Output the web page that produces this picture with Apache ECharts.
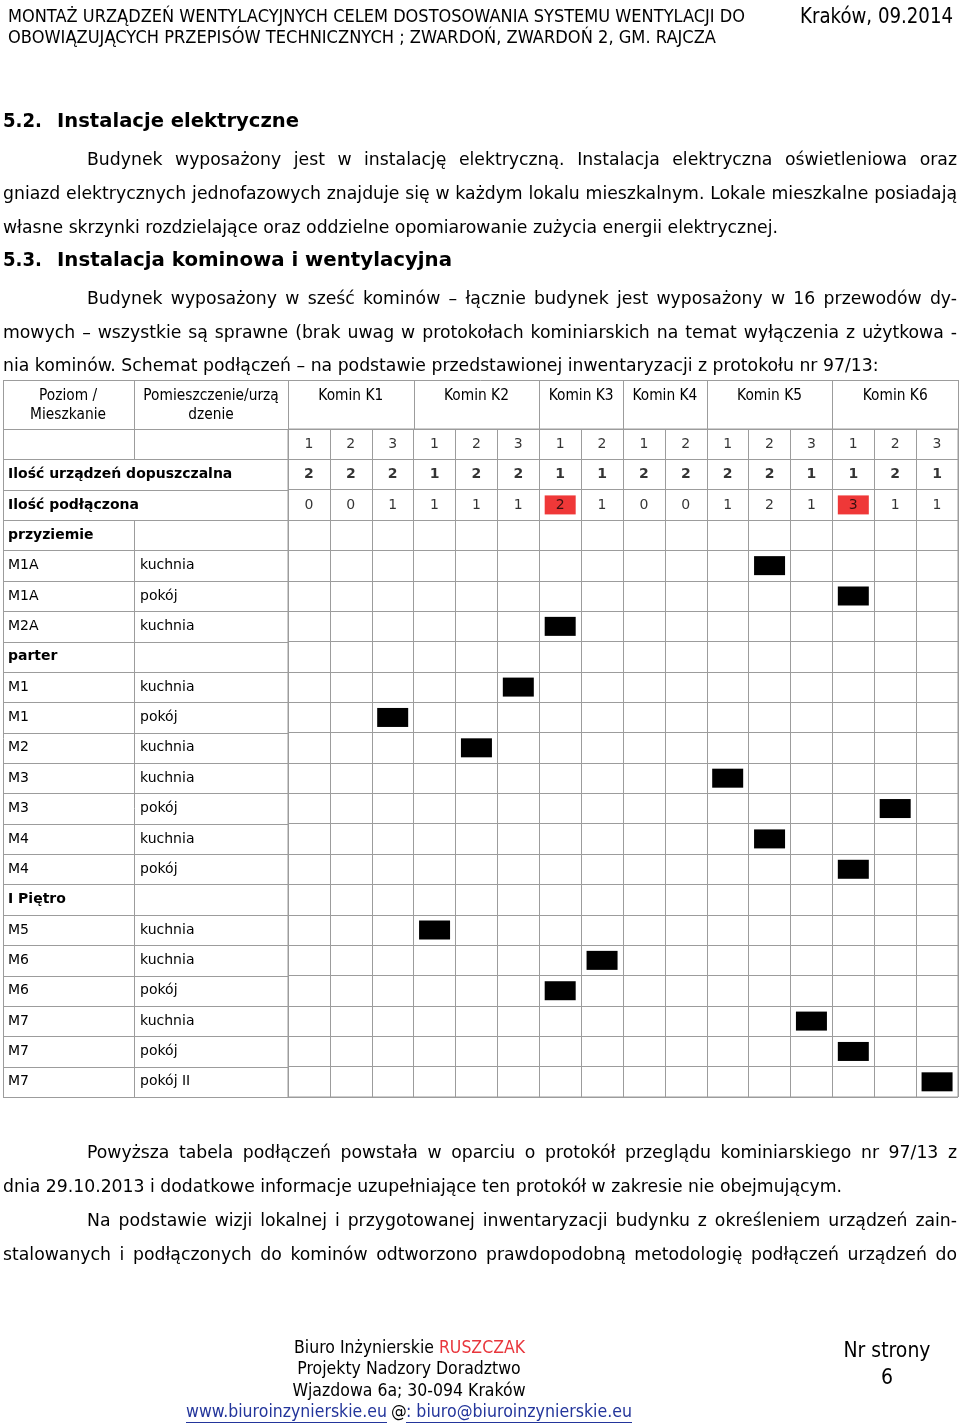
<!DOCTYPE html>
<html><head><meta charset="utf-8">
<script src="https://cdn.jsdelivr.net/npm/echarts@6/dist/echarts.min.js"></script>
<style>html,body{margin:0;padding:0;background:#fff}#c{width:960px;height:1425px}</style>
</head><body><div id="c"></div>
<script>
// ---------- DATA ----------
const kominy = ['Komin K1','Komin K2','Komin K3','Komin K4','Komin K5','Komin K6'];
const przewodyNaKomin = [3,3,2,2,3,3];
const przewody = ['1','2','3','1','2','3','1','2','1','2','1','2','3','1','2','3'];
const dopuszczalna = [2,2,2,1,2,2,1,1,2,2,2,2,1,1,2,1];
const podlaczona   = [0,0,1,1,1,1,2,1,0,0,1,2,1,3,1,1];
const poziomy = ['przyziemie','M1A','M1A','M2A','parter','M1','M1','M2','M3','M3','M4','M4','I Piętro','M5','M6','M6','M7','M7','M7'];
const pomieszczenia = ['','kuchnia','pokój','kuchnia','','kuchnia','pokój','kuchnia','kuchnia','pokój','kuchnia','pokój','','kuchnia','kuchnia','pokój','kuchnia','pokój','pokój II'];
// index of the flue (0..15) each room is connected to, null = level header
const podlaczenie = [null,11,13,6,null,5,2,4,10,14,11,13,null,3,7,6,12,13,15];
const wierszeStale = ['', 'Ilość urządzeń dopuszczalna', 'Ilość podłączona'];

// ---------- LAYOUT / STYLE ----------
const FONT = "'DejaVu Sans', Verdana, sans-serif";
const LINE = '#9c9c9c';
const GL = 288, GR = 958, GT = 429, GB = 1097, TL = 3, C2 = 134, HT = 380;
const nRows = wierszeStale.length + poziomy.length;
const RH = (GB - GT) / nRows, CW = (GR - GL) / przewody.length;
const DY = 1;

const ctx = document.createElement('canvas').getContext('2d');
function measure(s, size, bold){ ctx.font = (bold?'bold ':'') + size + 'px ' + FONT; return ctx.measureText(s).width; }
const G = [];
function txt(s, x, y, size, o){
  o = o || {};
  let sx = o.sx || 1;
  if (o.w) sx = o.w / measure(s, size, o.bold);
  G.push({type:'text', x:x, y:y + DY, scaleX:sx, silent:true, z:10,
    style:{text:s, font:(o.bold?'bold ':'') + size + 'px ' + FONT, fill:o.color||'#000',
      textAlign:o.align||'left', textVerticalAlign:'middle'}});
  return sx * measure(s, size, o.bold);
}
function justify(s, x0, x1, y, size, sx){
  const words = s.split(' ').filter(w => w.length);
  const ws = words.map(w => measure(w, size) * sx);
  const gap = (x1 - x0 - ws.reduce((a,b)=>a+b,0)) / (words.length - 1);
  let x = x0;
  words.forEach((w,i) => { txt(w, x, y, size, {sx:sx}); x += ws[i] + gap; });
}
function hline(x1, x2, y){ const yy = Math.round(y)+0.5; G.push({type:'line', silent:true, shape:{x1:x1, y1:yy, x2:x2, y2:yy}, style:{stroke:LINE, lineWidth:1}}); }
function vline(x, y1, y2){ const xx = Math.round(x)+0.5; G.push({type:'line', silent:true, shape:{x1:xx, y1:y1, x2:xx, y2:y2}, style:{stroke:LINE, lineWidth:1}}); }

// ---------- PAGE TEXT ----------
txt('MONTAŻ URZĄDZEŃ WENTYLACYJNYCH CELEM DOSTOSOWANIA SYSTEMU WENTYLACJI DO', 8, 16, 18, {w:737});
txt('OBOWIĄZUJĄCYCH PRZEPISÓW TECHNICZNYCH ; ZWARDOŃ, ZWARDOŃ 2, GM. RAJCZA', 8, 37, 18, {w:708});
txt('Kraków, 09.2014', 800, 17, 21, {w:153});

const BS = 18;
const SX = 775 / measure('własne skrzynki rozdzielające oraz oddzielne opomiarowanie zużycia energii elektrycznej.', BS);
txt('5.2.', 3, 121, 20, {bold:true, w:39});
txt('Instalacje elektryczne', 57, 121, 20, {bold:true, w:242});
justify('Budynek wyposażony jest w instalację elektryczną. Instalacja elektryczna oświetleniowa oraz', 87, 957, 159, BS, SX);
justify('gniazd elektrycznych jednofazowych znajduje się w każdym lokalu mieszkalnym. Lokale mieszkalne posiadają', 3, 957, 193, BS, SX);
txt('własne skrzynki rozdzielające oraz oddzielne opomiarowanie zużycia energii elektrycznej.', 3, 227, BS, {sx:SX});
txt('5.3.', 3, 260, 20, {bold:true, w:39});
txt('Instalacja kominowa i wentylacyjna', 57, 260, 20, {bold:true, w:395});
justify('Budynek wyposażony w sześć kominów – łącznie budynek jest wyposażony w 16 przewodów dy-', 87, 957, 298, BS, SX);
justify('mowych – wszystkie są sprawne (brak uwag w protokołach kominiarskich na temat wyłączenia z użytkowa -', 3, 957, 332, BS, SX);
txt('nia kominów. Schemat podłączeń – na podstawie przedstawionej inwentaryzacji z protokołu nr 97/13:', 3, 365, BS, {sx:SX});

justify('Powyższa tabela podłączeń powstała w oparciu o protokół przeglądu kominiarskiego nr 97/13 z', 87, 957, 1152, BS, SX);
txt('dnia 29.10.2013 i dodatkowe informacje uzupełniające ten protokół w zakresie nie obejmującym.', 3, 1186, BS, {sx:SX});
justify('Na  podstawie wizji lokalnej i przygotowanej inwentaryzacji budynku z określeniem urządzeń zain-', 87, 957, 1220, BS, SX);
justify('stalowanych i podłączonych do kominów odtworzono prawdopodobną metodologię podłączeń urządzeń do', 3, 957, 1254, BS, SX);

// footer
const FS = 17;
const fsx = 231 / measure('Biuro Inżynierskie RUSZCZAK', FS);
const w1 = measure('Biuro Inżynierskie ', FS) * fsx;
txt('Biuro Inżynierskie ', 294, 1348, FS, {sx:fsx});
txt('RUSZCZAK', 294 + w1, 1348, FS, {sx:fsx, color:'#e8363c'});
txt('Projekty Nadzory Doradztwo', 409, 1369, FS, {sx:fsx, align:'center'});
txt('Wjazdowa 6a; 30-094 Kraków', 409, 1391, FS, {sx:fsx, align:'center'});
const LINK = '#23359b';
txt('www.biuroinzynierskie.eu', 186, 1412, FS, {w:201, color:LINK});
txt('@', 391, 1412, FS, {sx:fsx});
txt(': biuro@biuroinzynierskie.eu', 406, 1412, FS, {w:226, color:LINK});
[[186, 387], [406, 632]].forEach(p => G.push({type:'line', silent:true, shape:{x1:p[0], y1:1422.5, x2:p[1], y2:1422.5}, style:{stroke:LINK, lineWidth:1}}));
txt('Nr strony', 887, 1351, 21, {w:87, align:'center'});
txt('6', 887, 1378, 21, {sx:0.9, align:'center'});

// ---------- TABLE FRAME (header row + left columns) ----------
const TS = 15;
const TSX = 65 / measure('Komin K1', TS);
hline(TL, GR, HT);
for (let i = 0; i <= nRows; i++) hline(TL, GL, GT + i * RH);
vline(TL, HT, GB);
vline(GL, HT, GB);
vline(C2, HT, GT + RH);
vline(C2, GT + 3 * RH, GB);
let acc = 0;
kominy.forEach((k, i) => {
  const x0 = GL + acc * CW;
  acc += przewodyNaKomin[i];
  const x1 = GL + acc * CW;
  vline(x1, HT, GT);
  txt(k, (x0 + x1) / 2, 395, TS, {sx:TSX, align:'center'});
});
txt('Poziom /', 68, 395, TS, {sx:TSX, align:'center'});
txt('Mieszkanie', 68, 414, TS, {sx:TSX, align:'center'});
txt('Pomieszczenie/urzą', 211, 395, TS, {sx:TSX, align:'center'});
txt('dzenie', 211, 414, TS, {sx:TSX, align:'center'});

// ---------- CHART ----------
const xCats = przewody.map((p, i) => 'p' + i);
const yCats = wierszeStale.concat(poziomy.map((p, i) => p + ' ' + pomieszczenia[i]));
const lblBase = {show:true, position:'inside', fontFamily:FONT, fontSize:14, color:'#000'};
const blank = {color:'rgba(0,0,0,0)'};

const series = [
  { name:'przewody', type:'scatter', symbolSize:1, itemStyle:blank,
    data: przewody.map((p, i) => ({value:[i, 0], name:p})),
    label: Object.assign({}, lblBase, {formatter: p => p.name}) },
  { name:'dopuszczalna', type:'scatter', symbolSize:1, itemStyle:blank,
    data: dopuszczalna.map((v, i) => [i, 1, v]),
    label: Object.assign({}, lblBase, {fontWeight:'bold', formatter: p => p.value[2]}) },
  { name:'podłączona', type:'scatter', symbolSize:1, itemStyle:blank,
    data: podlaczona.map((v, i) => [i, 2, v]).filter(d => d[2] <= dopuszczalna[d[0]]),
    label: Object.assign({}, lblBase, {formatter: p => p.value[2]}) },
  { name:'przekroczona', type:'scatter', symbol:'rect', symbolSize:[31, 19], itemStyle:{color:'#ef3838', opacity:1},
    data: podlaczona.map((v, i) => [i, 2, v]).filter(d => d[2] > dopuszczalna[d[0]]),
    label: Object.assign({}, lblBase, {color:'#3a1010', formatter: p => p.value[2]}) },
  { name:'podłączenie', type:'scatter', symbol:'rect', symbolSize:[31, 19], itemStyle:{color:'#000', opacity:1},
    data: podlaczenie.map((c, r) => c === null ? null : [c, r + wierszeStale.length]).filter(d => d) }
];

const option = {
  animation:false,
  grid:{left:GL, top:GT, width:GR - GL, height:GB - GT, show:true, borderColor:LINE, borderWidth:1, containLabel:false},
  xAxis:{type:'category', data:xCats, axisLine:{show:false}, axisTick:{show:false}, axisLabel:{show:false},
    splitLine:{show:true, interval:0, lineStyle:{color:LINE, width:1}}},
  yAxis:{type:'category', data:yCats, inverse:true, axisLine:{show:false}, axisTick:{show:false},
    splitLine:{show:true, interval:0, lineStyle:{color:LINE, width:1}},
    axisLabel:{show:true, interval:0, align:'left', margin:GL - 8, fontFamily:FONT, fontSize:14, color:'#000',
      formatter:(v, i) => {
        if (i === 0) return '';
        if (i < wierszeStale.length) return '{h|' + wierszeStale[i] + '}';
        const r = i - wierszeStale.length;
        if (!pomieszczenia[r]) return '{h|' + poziomy[r] + '}';
        return '{a|' + poziomy[r] + '}{b|' + pomieszczenia[r] + '}';
      },
      rich:{a:{width:132, fontFamily:FONT, fontSize:14, color:'#000'}, b:{fontFamily:FONT, fontSize:14, color:'#000'},
        h:{fontFamily:FONT, fontSize:14, fontWeight:'bold', color:'#000'}}}},
  series:series,
  graphic:G
};
const chart = echarts.init(document.getElementById('c'), null, {renderer:'canvas'});
chart.setOption(option);
</script></body></html>
